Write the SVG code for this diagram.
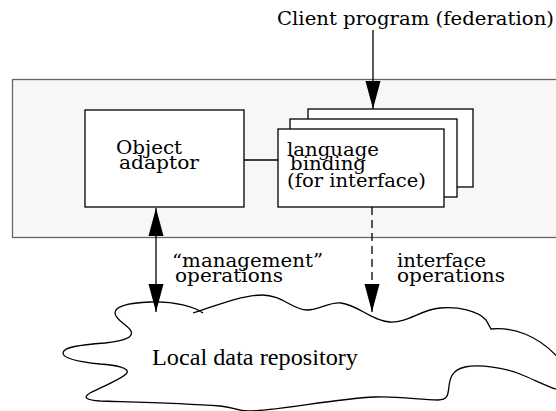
<svg xmlns="http://www.w3.org/2000/svg" width="556" height="411" viewBox="0 0 556 411">
<style>
.lbl{font-family:"DejaVu Serif",serif;font-size:19px;fill:#000}
.big{font-family:"Liberation Serif","Times New Roman",serif;font-size:24px;fill:#000}
.box{fill:#fff;stroke:#000;stroke-width:1.3}
.conn{stroke:#000;stroke-width:1.3;fill:none}
</style>
<defs>
<marker id="ah" viewBox="0 0 28 16" refX="28" refY="8" markerWidth="28" markerHeight="16" markerUnits="userSpaceOnUse" orient="auto-start-reverse">
<path d="M0,0.5 L28,8 L0,15.5 Z" fill="#000"/>
</marker>
</defs>
<rect width="556" height="411" fill="#fff"/>
<g id="system">
<rect x="12.5" y="79.5" width="560" height="158" fill="#f7f7f7" stroke="#666" stroke-width="1.3"/>
</g>
<g id="repository">
<path d="M193,313 C210,308 240,295 262,295 C282,295 293,310 307,310 C320,310 328,302 341,303 C358,305 372,321 390,322 C407,323 420,310 440,308 C458,306 478,311 486,320 L491,329 C500,328 512,329 525,334 C540,340 552,350 562,362 L562,391 C550,388 535,380 520,374 C505,368 480,364 465,367 C452,370 450,378 449,386 C448,395 448,400 438,400 C420,400 400,396 375,397 C330,399 280,411 248,411 C237,411 233,407 220,406 C180,403 130,402 100,401 C87,400 82,398 90,393 C103,386 120,380 126,374 C132,368 115,365 100,364 C80,362 63,359 63,353 C63,347 80,345 105,343 C122,341 134,338 131,331 C128,325 115,320 115,313 C115,307 125,303 150,302 C175,301 195,307 203,313" fill="#fff" stroke="#000" stroke-width="1.3"/>
<text class="big" x="152" y="365" textLength="206" lengthAdjust="spacingAndGlyphs">Local data repository</text>
</g>
<g id="object-adaptor">
<rect class="box" x="85" y="110" width="159" height="97"/>
<text class="lbl" x="116" y="154" textLength="66" lengthAdjust="spacingAndGlyphs">Object</text>
<text class="lbl" x="119" y="169" textLength="80" lengthAdjust="spacingAndGlyphs">adaptor</text>
</g>
<g id="language-binding">
<rect class="box" x="308" y="109" width="165" height="78"/>
<rect class="box" x="290" y="119" width="167" height="78"/>
<rect class="box" x="278" y="129" width="166" height="78"/>
<text class="lbl" x="287" y="156" textLength="92" lengthAdjust="spacingAndGlyphs">language</text>
<text class="lbl" x="290" y="170" textLength="76" lengthAdjust="spacingAndGlyphs">binding</text>
<text class="lbl" x="287" y="187" textLength="139" lengthAdjust="spacingAndGlyphs">(for interface)</text>
</g>
<g id="client">
<text class="lbl" x="277" y="25" textLength="277" lengthAdjust="spacingAndGlyphs">Client program (federation)</text>
</g>
<g id="connectors">
<line class="conn" x1="244" y1="160" x2="278" y2="160"/>
<line class="conn" x1="373" y1="30" x2="373" y2="109" marker-end="url(#ah)"/>
<line class="conn" x1="156" y1="208" x2="156" y2="312" marker-start="url(#ah)" marker-end="url(#ah)"/>
<line class="conn" x1="372" y1="207" x2="372" y2="286" stroke-dasharray="8,5"/>
<line class="conn" x1="372" y1="284" x2="372" y2="312" marker-end="url(#ah)"/>
<text class="lbl" x="172" y="267" textLength="151" lengthAdjust="spacingAndGlyphs">“management”</text>
<text class="lbl" x="175" y="282" textLength="108" lengthAdjust="spacingAndGlyphs">operations</text>
<text class="lbl" x="397" y="267" textLength="89" lengthAdjust="spacingAndGlyphs">interface</text>
<text class="lbl" x="397" y="282" textLength="108" lengthAdjust="spacingAndGlyphs">operations</text>
</g>
</svg>
